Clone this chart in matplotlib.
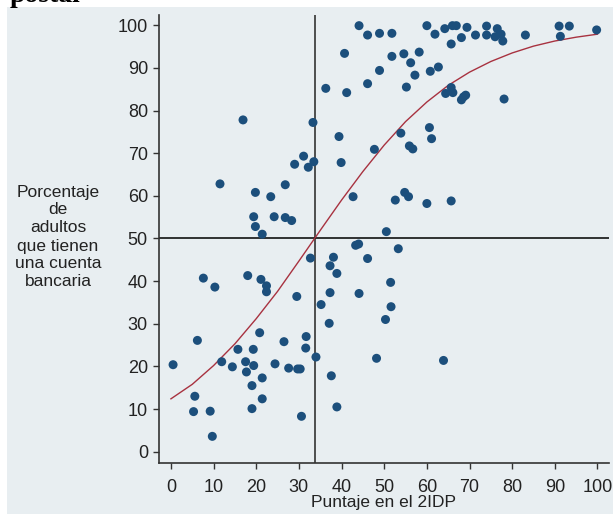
import matplotlib
matplotlib.use("Agg")
import matplotlib.pyplot as plt
from matplotlib.patches import Rectangle

# scatter: index score (x) vs % adults with a bank account (y)
score = [16.9, 33.3, 31.1, 29.0, 32.2, 33.5, 11.5, 26.8, 19.8, 23.4,
         19.4, 24.2, 26.8, 28.3, 19.8, 21.4, 44.1, 46.1, 48.9, 51.8,
         60.0, 61.9, 64.2, 66.0, 66.9, 65.7, 40.7, 51.8, 54.6, 58.2,
         56.2, 62.7, 60.8, 57.2, 48.9, 46.1, 36.3, 41.2, 55.2, 65.7,
         64.4, 66.1, 68.1, 68.6, 69.1, 39.4, 53.9, 60.6, 61.1, 47.7,
         55.9, 56.7, 39.9, 42.7, 52.6, 54.8, 55.7, 60.0, 65.7, 50.5,
         69.4, 74.0, 76.5, 68.1, 71.4, 74.0, 76.0, 77.4, 77.8, 83.1,
         91.0, 93.4, 91.3, 99.8, 78.1,
         32.7, 7.6, 10.3, 18.0, 21.1, 22.4, 22.4, 29.5, 35.2, 6.2,
         20.8, 31.7, 26.5, 15.7, 19.3, 31.6, 34.0, 0.5, 11.9, 14.4,
         17.5, 17.7, 19.4, 24.4, 27.6, 29.7, 30.3, 21.4, 19.0, 5.6,
         21.4, 5.3, 9.2, 19.0, 30.6, 9.7, 43.3, 44.0, 53.3, 38.1,
         46.1, 37.3, 38.9, 51.5, 37.3, 44.1, 51.6, 50.3, 37.1, 48.2,
         63.9, 37.6, 38.9]
pct = [77.8, 77.2, 69.3, 67.4, 66.7, 68.0, 62.8, 62.6, 60.8, 59.8,
       55.1, 55.1, 54.9, 54.2, 52.8, 51.0, 99.9, 97.7, 98.1, 98.1,
       99.9, 97.9, 99.2, 99.9, 99.9, 95.6, 93.4, 92.7, 93.3, 93.7,
       91.2, 90.2, 89.2, 88.3, 89.4, 86.3, 85.2, 84.2, 85.5, 85.4,
       84.0, 84.2, 82.5, 83.2, 83.6, 73.9, 74.7, 76.0, 73.4, 70.9,
       71.7, 71.0, 67.8, 59.8, 59.0, 60.8, 59.8, 58.2, 58.8, 51.6,
       99.5, 99.8, 99.2, 97.1, 97.7, 97.7, 97.3, 97.9, 96.3, 97.7,
       99.8, 99.8, 97.4, 98.9, 82.7,
       45.4, 40.7, 38.6, 41.3, 40.4, 38.9, 37.5, 36.4, 34.5, 26.1,
       27.9, 27.0, 25.8, 24.0, 24.0, 24.3, 22.2, 20.4, 21.1, 19.9,
       21.1, 18.7, 20.2, 20.6, 19.6, 19.4, 19.4, 17.3, 15.5, 13.0,
       12.4, 9.4, 9.5, 10.1, 8.3, 3.6, 48.4, 48.7, 47.6, 45.6,
       45.3, 43.6, 41.8, 39.7, 37.3, 37.1, 34.0, 31.0, 30.1, 21.9,
       21.4, 17.8, 10.5]

# fitted curve
fit_x = [0, 5, 10, 15, 20, 25, 30, 35, 40, 45, 50,
         55, 60, 65, 70, 75, 80, 85, 90, 95, 100]
fit_y = [12.4, 15.8, 20.2, 25.3, 31.2, 37.6, 44.7, 51.9, 59.0, 65.7, 71.9,
         77.4, 82.0, 85.9, 89.0, 91.5, 93.5, 95.1, 96.3, 97.2, 97.9]

cut_x = 33.7
cut_y = 50

bg = '#e8eef1'
plt.rcParams['font.family'] = ['Liberation Sans', 'DejaVu Sans']

fig = plt.figure(figsize=(6.13, 5.14), dpi=100)
fig.patch.set_facecolor('white')
W, H = 613, 514
fig.patches.append(Rectangle((7 / W, 0), 1 - 7 / W, 1 - 7 / H,
                             transform=fig.transFigure, facecolor=bg,
                             edgecolor='none', zorder=-5))
fig.text(10 / W, 1 - 2 / H, 'postal', family='Liberation Serif',
         fontsize=20, fontweight='bold', va='baseline', ha='left')

ax = fig.add_axes([159 / W, 1 - 463 / H, 450 / W, 448 / H])
ax.set_facecolor(bg)

ax.plot(fit_x, fit_y, color='#a83240', lw=1.0, zorder=3)
ax.scatter(score, pct, s=42, color='#1c4f7c', edgecolors='none', zorder=4)
ax.axvline(cut_x, color='#333333', lw=1.2, zorder=2)
ax.axhline(cut_y, color='#111111', lw=1.2, zorder=2)

ax.set_xlim(-2.8, 102.7)
ax.set_ylim(-2.65, 102.4)
ax.set_xticks(range(0, 101, 10))
ax.set_yticks(range(0, 101, 10))
for s in ['top', 'right']:
    ax.spines[s].set_visible(False)
for s in ['left', 'bottom']:
    ax.spines[s].set_color('#333333')
    ax.spines[s].set_linewidth(1.2)
ax.tick_params(axis='both', length=4.5, width=1, color='#333333',
               labelsize=13, labelcolor='#222222')
ax.tick_params(axis='x', pad=7)
ax.tick_params(axis='y', pad=3.5)

fig.text(58 / W, 1 - 237 / H,
         'Porcentaje\nde\nadultos\nque tienen\nuna cuenta\nbancaria',
         ha='center', va='center', fontsize=12.5, linespacing=1.25,
         color='#222222')
fig.text(384 / W, 1 - 503 / H, 'Puntaje en el 2IDP', ha='center',
         va='center', fontsize=12.5, color='#222222')

fig.savefig('out.png', dpi=100, facecolor=fig.get_facecolor())
